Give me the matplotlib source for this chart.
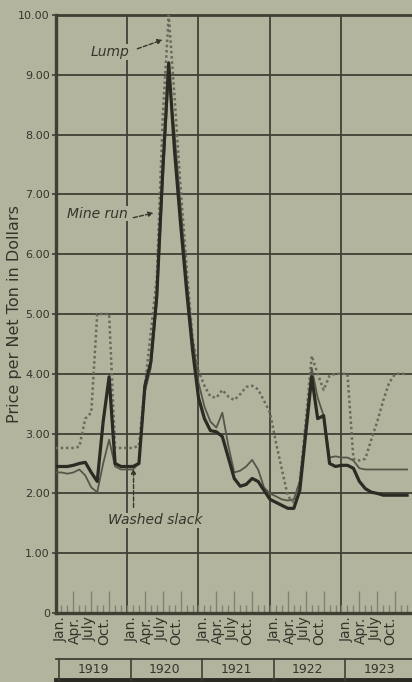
import numpy as np
import matplotlib
matplotlib.use("Agg")
import matplotlib.pyplot as plt
from matplotlib.transforms import blended_transform_factory

# Monthly coal prices, Jan 1919 - Dec 1923 (dollars per net ton)
years = ["1919", "1920", "1921", "1922", "1923"]
month_labels = ["Jan.", "Apr.", "July", "Oct."]
y_tick_labels = ["0", "1.00", "2.00", "3.00", "4.00", "5.00",
                 "6.00", "7.00", "8.00", "9.00", "10.00"]

lump = [
    2.76, 2.76, 2.76, 2.76, 2.78, 3.25, 3.35, 5.00, 5.00, 5.00, 2.76, 2.76,   # 1919
    2.76, 2.76, 2.80, 3.80, 4.70, 5.60, 8.30, 10.00, 8.60, 7.10, 5.80, 4.60,  # 1920
    4.05, 3.80, 3.62, 3.60, 3.73, 3.62, 3.56, 3.66, 3.78, 3.80, 3.74, 3.55,   # 1921
    3.35, 2.85, 2.40, 1.95, 1.85, 2.20, 3.20, 4.30, 4.00, 3.73, 3.97, 4.00,   # 1922
    4.00, 4.00, 2.58, 2.55, 2.58, 2.90, 3.20, 3.55, 3.85, 4.00, 4.00, 4.00,   # 1923
]
mine_run = [
    2.45, 2.45, 2.45, 2.47, 2.50, 2.52, 2.35, 2.20, 3.20, 3.95, 2.50, 2.45,
    2.45, 2.45, 2.50, 3.80, 4.20, 5.30, 7.40, 9.20, 7.70, 6.50, 5.40, 4.40,
    3.60, 3.25, 3.05, 3.03, 2.95, 2.60, 2.25, 2.12, 2.15, 2.25, 2.20, 2.05,
    1.90, 1.85, 1.80, 1.75, 1.75, 2.05, 3.00, 3.95, 3.25, 3.30, 2.50, 2.45,
    2.47, 2.47, 2.42, 2.20, 2.08, 2.02, 2.00, 1.97, 1.97, 1.97, 1.97, 1.97,
]
washed_slack = [
    2.35, 2.35, 2.33, 2.35, 2.40, 2.30, 2.10, 2.02, 2.50, 2.90, 2.45, 2.40,
    2.40, 2.40, 2.50, 3.70, 4.10, 5.20, 7.20, 9.00, 8.00, 6.80, 5.60, 4.60,
    3.85, 3.45, 3.20, 3.10, 3.35, 2.80, 2.35, 2.38, 2.45, 2.56, 2.40, 2.10,
    2.00, 1.95, 1.90, 1.88, 1.90, 2.20, 3.10, 4.10, 3.60, 3.30, 2.60, 2.62,
    2.60, 2.60, 2.55, 2.42, 2.40, 2.40, 2.40, 2.40, 2.40, 2.40, 2.40, 2.40,
]

BG = "#b3b49e"
INK = "#35352b"
GRID = "#3f3f34"

months = np.arange(len(lump))

fig = plt.figure(figsize=(4.12, 6.82), dpi=100, facecolor=BG)
ax = fig.add_axes([55.5 / 412, 69 / 682, (413 - 55.5) / 412, 598 / 682])
ax.set_facecolor(BG)
ax.set_xlim(0, 60)
ax.set_ylim(0, 10)

# grid
for v in range(1, 10):
    ax.axhline(v, color=GRID, lw=1.3, zorder=1)
for yr in range(1, 5):
    ax.axvline(12 * yr, color=GRID, lw=1.3, zorder=1)

ax.spines["right"].set_visible(False)
ax.spines["left"].set_linewidth(2.4)
ax.spines["bottom"].set_linewidth(2.4)
ax.spines["top"].set_linewidth(2.0)
for s in ax.spines.values():
    s.set_color(GRID)

# y axis
ax.set_yticks(range(0, 11))
ax.set_yticklabels(y_tick_labels, fontsize=8, color=INK)
ax.tick_params(axis="y", length=3, width=1.2, color=GRID, pad=1)
ax.set_ylabel("Price per Net Ton in Dollars", fontsize=11.5, color=INK)
ax.yaxis.set_label_coords(-0.094, 0.5)

# month ticks pointing into the plot
ax.set_xticks([m for m in range(60) if m % 3 == 0 and m % 12 != 0])
ax.set_xticks(range(60), minor=True)
ax.tick_params(axis="x", which="major", direction="in", length=16,
               width=1.0, color="#808073", labelbottom=False)
ax.tick_params(axis="x", which="minor", direction="in", length=6,
               width=1.0, color="#808073")

# price lines
ax.plot(months, lump, color="#6a6a5c", lw=1.8, ls=(0, (1.0, 1.1)), zorder=3)
ax.plot(months, washed_slack, color="#56564a", lw=1.3, zorder=4)
ax.plot(months, mine_run, color="#2b2b23", lw=2.3, zorder=5)

# series labels
lab = dict(fontsize=10, style="italic", color=INK, zorder=6,
           bbox=dict(facecolor=BG, edgecolor="none", pad=0.5))
ax.text(9.1, 9.38, "Lump", ha="center", va="center", **lab)
ax.text(7.0, 6.68, "Mine run", ha="center", va="center", **lab)
ax.text(16.7, 1.55, "Washed slack", ha="center", va="center", **lab)

arrow = dict(arrowstyle="-|>", color=INK, lw=1.0, ls=(0, (3, 1.5)),
             mutation_scale=7)
ax.annotate("", xy=(18.4, 9.6), xytext=(13.3, 9.42), arrowprops=arrow,
            zorder=6)
ax.annotate("", xy=(16.9, 6.7), xytext=(12.6, 6.6), arrowprops=arrow,
            zorder=6)
ax.annotate("", xy=(13.1, 2.46), xytext=(13.1, 1.72), arrowprops=arrow,
            zorder=6)

# month names under the axis
tr = blended_transform_factory(ax.transData, ax.transAxes)
offsets = [0.8, 3.3, 5.8, 8.2]
for yi in range(len(years)):
    for off, name in zip(offsets, month_labels):
        ax.text(12 * yi + off, -0.006, name, rotation=90, ha="center",
                va="top", fontsize=10, color=INK, transform=tr)

# year band
band_top, band_bot = -0.0769, -0.112
ax.plot([0, 60], [band_top, band_top], color=GRID, lw=1.3, transform=tr,
        clip_on=False)
ax.plot([0, 60], [band_bot, band_bot], color="#2a2a22", lw=3.5, transform=tr,
        clip_on=False)
for yi in range(len(years) + 1):
    ax.plot([12 * yi + 0.6, 12 * yi + 0.6], [band_top, band_bot],
            color=GRID, lw=1.2, transform=tr, clip_on=False)
for yi, yname in enumerate(years):
    ax.text(12 * yi + 6.3, (band_top + band_bot) / 2, yname, ha="center",
            va="center", fontsize=9, color=INK, transform=tr)

fig.savefig("out.png", dpi=100, facecolor=BG)
